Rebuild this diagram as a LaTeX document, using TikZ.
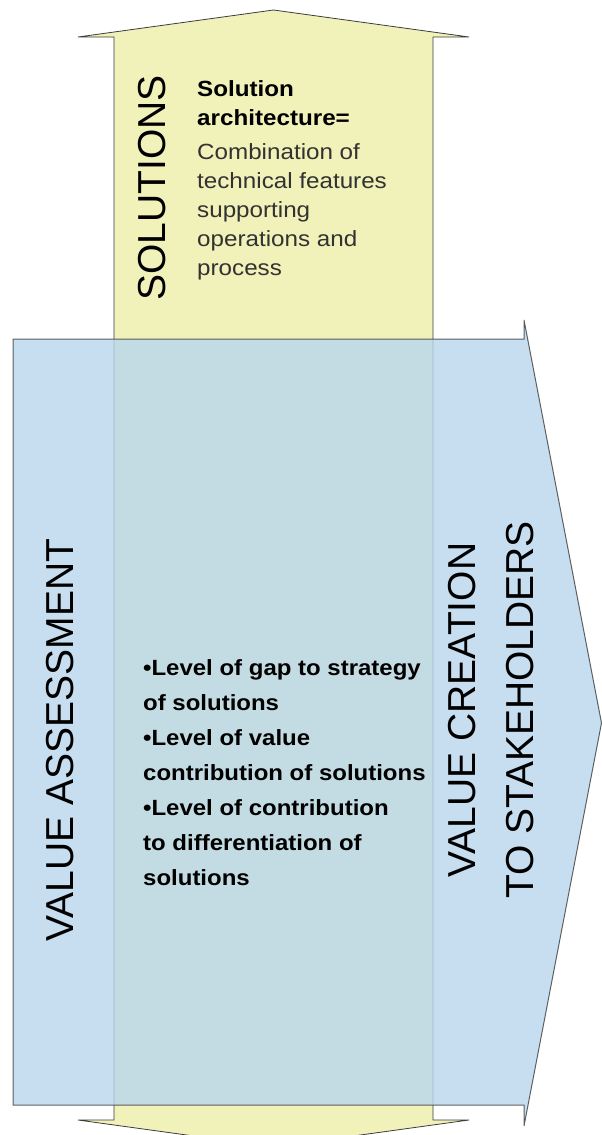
\documentclass[tikz,border=0pt]{standalone}
\usepackage{fontspec}
\setmainfont{Liberation Sans}
\definecolor{yel}{RGB}{241,241,186}
\definecolor{blu}{RGB}{184,214,236}
\definecolor{edge}{RGB}{60,60,60}
\definecolor{txtgray}{RGB}{50,50,50}
\tikzset{
  bigtext/.style={font=\fontsize{39}{58}\selectfont, inner sep=0pt, rotate=90, align=center},
  smalltext/.style={inner sep=0pt, align=left, anchor=north west},
}
\begin{document}
\begin{tikzpicture}[x=1pt,y=-1pt]
\useasboundingbox (0,0) rectangle (602,1135);
% yellow double arrow
\draw[edge, fill=yel, line width=0.8pt, line join=miter]
  (114,37) -- (78,37) -- (273.5,10) -- (469,37) -- (433,37) -- (433,1120)
  -- (469,1120) -- (273.5,1147) -- (78,1120) -- (114,1120) -- cycle;
% blue arrow (semi transparent)
\draw[draw=edge, fill=blu, fill opacity=0.8, draw opacity=0.8, line width=1pt, line join=miter]
  (13,339) -- (524,339) -- (524,320) -- (601.5,723) -- (524,1126) -- (524,1105) -- (13,1105) -- cycle;
% texts
\node[bigtext] (sol) at (152,188) {SOLUTIONS};
\node[smalltext, font=\fontsize{22}{29}\selectfont\addfontfeature{FakeStretch=1.1}] (arch) at (197,80)
  {\textbf{Solution}\\ \textbf{architecture=}\\[5pt]
   \color{txtgray}Combination of\\ \color{txtgray}technical features\\ \color{txtgray}supporting\\ \color{txtgray}operations and\\ \color{txtgray}process};
\node[bigtext] (va) at (60,740) {VALUE ASSESSMENT};
\node[bigtext] (vc) at (491,710) {VALUE CREATION\\TO STAKEHOLDERS};
\node[smalltext, font=\fontsize{22}{35}\selectfont\bfseries\addfontfeature{FakeStretch=1.09}] (lev) at (143,659)
  {•Level of gap to strategy\\ of solutions\\ •Level of value\\ contribution of solutions\\ •Level of contribution\\ to differentiation of\\ solutions};
\end{tikzpicture}
\end{document}
